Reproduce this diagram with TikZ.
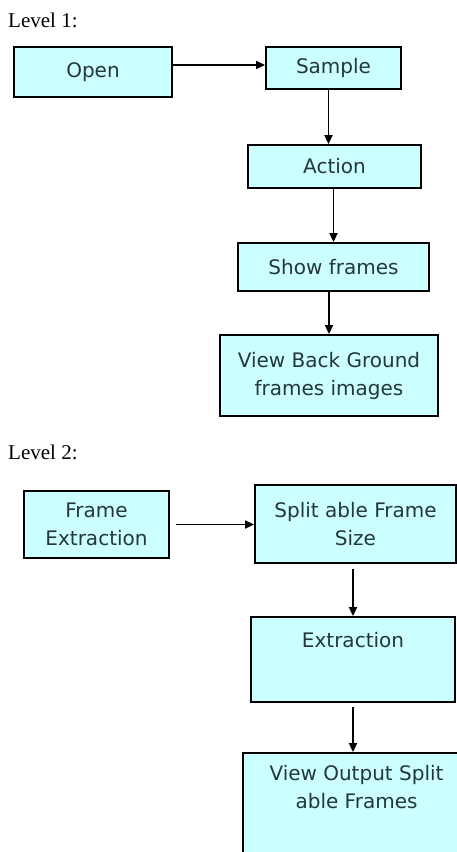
\documentclass[tikz,border=0pt]{standalone}
\usepackage{fontspec}
\setmainfont{Liberation Serif}
\newfontfamily\boxfont{DejaVu Sans}
\usetikzlibrary{arrows.meta}
\definecolor{boxfill}{RGB}{204,255,255}
\definecolor{boxtext}{RGB}{35,55,60}
\begin{document}
\begin{tikzpicture}[x=1pt,y=-1pt,
  box/.style={draw=black, line width=1.8pt, fill=boxfill, inner sep=0pt,
    font=\boxfont\fontsize{20}{28}\selectfont, text=boxtext, align=center},
  toptext/.style={font=\boxfont\fontsize{20}{28}\selectfont, text=boxtext, align=center, inner sep=0pt},
  arr/.style={-{Triangle[length=9pt,width=8pt]}, line width=1.7pt},
  lvl/.style={font=\fontsize{21}{24}\selectfont, anchor=base west, inner sep=0pt}]
\useasboundingbox (0,0) rectangle (457,852);
\fill[white] (0,0) rectangle (457,852);
\begin{scope}
\clip (0,0) rectangle (457,852);
% Level 1
\node[lvl] (lvlone) at (8,27) {Level 1:};
\node[box, minimum width=158pt, minimum height=50pt] (open) at (93,72) {Open};
\node[box, minimum width=135pt, minimum height=42pt] (sample) at (333.5,68) {Sample};
\node[box, minimum width=173pt, minimum height=43pt] (action) at (334.5,166.5) {Action};
\node[box, minimum width=191pt, minimum height=48pt] (show) at (333.5,267) {Show frames};
\node[box, minimum width=218pt, minimum height=81pt] (viewbg) at (329,375.5) {View Back Ground\\frames images};
% Level 2
\node[lvl] (lvltwo) at (8,459) {Level 2:};
\node[box, minimum width=145pt, minimum height=67pt] (frameext) at (96.5,524.5) {Frame\\Extraction};
\node[box, minimum width=201pt, minimum height=78pt] (split) at (355.5,524) {Split able Frame\\Size};
\node[box, minimum width=204pt, minimum height=85pt,
  label={[toptext, anchor=north, yshift=-16pt]north:Extraction}] (extraction) at (353,659.5) {};
\node[box, minimum width=227pt, minimum height=167pt,
  label={[toptext, anchor=north, yshift=-13pt]north:{View Output Split\\able Frames}}] (viewout) at (356.5,836.5) {};
% connectors level 1
\coordinate (a1) at ([yshift=3pt]sample.west);
\draw[arr] (open.east |- a1) -- (a1);
\coordinate (a2) at ([xshift=-5pt]sample.south);
\draw[arr] (a2) -- (a2 |- action.north);
\draw[arr] (action.south -| show.north) -- (show.north);
\draw[arr] (show.south -| viewbg.north) -- (viewbg.north);
% connectors level 2
\draw[arr] ([xshift=6pt]frameext.east) -- (split.west |- frameext.east);
\coordinate (b1) at ([yshift=-5pt]split.south -| extraction.north);
\draw[arr] (b1) -- (extraction.north);
\coordinate (b2) at ([yshift=-4pt]extraction.south -| viewout.north);
\draw[arr] (b2 -| extraction.south) -- (extraction.south |- viewout.north);
\end{scope}
\end{tikzpicture}
\end{document}
